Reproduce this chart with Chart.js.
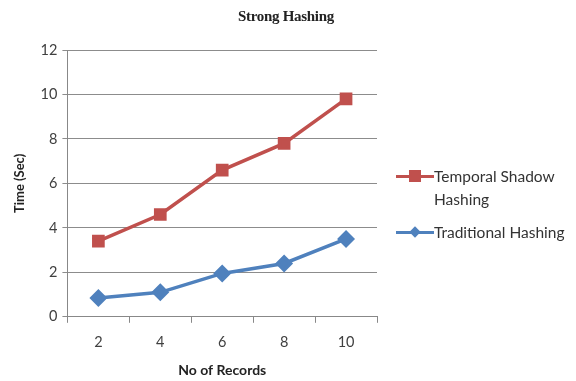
<!DOCTYPE html>
<html>
<head>
<meta charset="utf-8">
<script src="https://cdn.jsdelivr.net/npm/chart.js@4/dist/chart.umd.min.js"></script>
<style>
html,body{margin:0;padding:0;background:#fff;}
#wrap{position:relative;width:576px;height:381px;}
#title{position:absolute;left:0;width:572px;top:8px;text-align:center;font-family:"Liberation Serif",serif;font-weight:bold;font-size:15px;color:#222;letter-spacing:-0.3px;}
#legend{position:absolute;left:396px;top:165px;font-family:Lato,"Open Sans",sans-serif;font-size:15.5px;color:#333;}
.item{display:flex;align-items:flex-start;margin-bottom:10px;}
.key{position:relative;width:38px;height:22px;flex:none;}
.key .ln{position:absolute;left:0;right:0;top:10px;height:3px;}
.key .mk{position:absolute;}
.txt{line-height:23px;}
</style>
</head>
<body>
<div id="wrap">
<canvas id="chart" width="576" height="381"></canvas>
<div id="title">Strong Hashing</div>
<div id="legend"></div>
</div>
<script>
const records=['2','4','6','8','10'];
const temporalShadow=[3.4,4.6,6.6,7.8,9.8];
const traditional=[0.85,1.1,1.95,2.4,3.5];
const seriesNames=['Temporal Shadow Hashing','Traditional Hashing'];
const red='#c0504d', blue='#4f81bd';
const font='Lato, "Open Sans", sans-serif';

const ctx=document.getElementById('chart').getContext('2d');
new Chart(ctx,{
  type:'line',
  data:{labels:records,datasets:[
    {label:seriesNames[0],data:temporalShadow,borderColor:red,backgroundColor:red,borderWidth:3.5,pointStyle:'rect',pointRadius:6.5,pointHoverRadius:6.5},
    {label:seriesNames[1],data:traditional,borderColor:blue,backgroundColor:blue,borderWidth:3.5,pointStyle:'rectRot',pointRadius:6.5,pointHoverRadius:6.5}
  ]},
  options:{
    responsive:false,animation:false,
    layout:{padding:{top:50,right:199,bottom:-2,left:8}},
    plugins:{legend:{display:false},tooltip:{enabled:false}},
    scales:{
      x:{offset:true,
        grid:{offset:true,drawOnChartArea:false,tickLength:6,color:'#888'},
        border:{color:'#888'},
        ticks:{color:'#404040',font:{family:font,size:14.5},padding:11},
        title:{display:true,text:'No of Records',color:'#222',font:{family:font,size:14,weight:'bold'},padding:{top:0}}
      },
      y:{min:0,max:12,
        grid:{color:'#8c8c8c',tickLength:5},
        border:{color:'#888'},
        ticks:{stepSize:2,color:'#404040',font:{family:font,size:14.5},padding:5},
        title:{display:true,text:'Time (Sec)',color:'#222',font:{family:font,size:13,weight:'bold'},padding:{bottom:8}}
      }
    }
  }
});

// legend with wrapped first label
const lg=document.getElementById('legend');
const items=[[red,'rect','Temporal Shadow<br>Hashing'],[blue,'diamond','Traditional Hashing']];
items.forEach(([c,shape,text])=>{
  const mk=shape==='rect'
    ?`<div class="mk" style="left:13px;top:5px;width:12px;height:12px;background:${c}"></div>`
    :`<div class="mk" style="left:15px;top:7px;width:8px;height:8px;background:${c};transform:rotate(45deg)"></div>`;
  lg.insertAdjacentHTML('beforeend',`<div class="item"><div class="key"><div class="ln" style="background:${c}"></div>${mk}</div><div class="txt">${text}</div></div>`);
});
</script>
</body>
</html>
